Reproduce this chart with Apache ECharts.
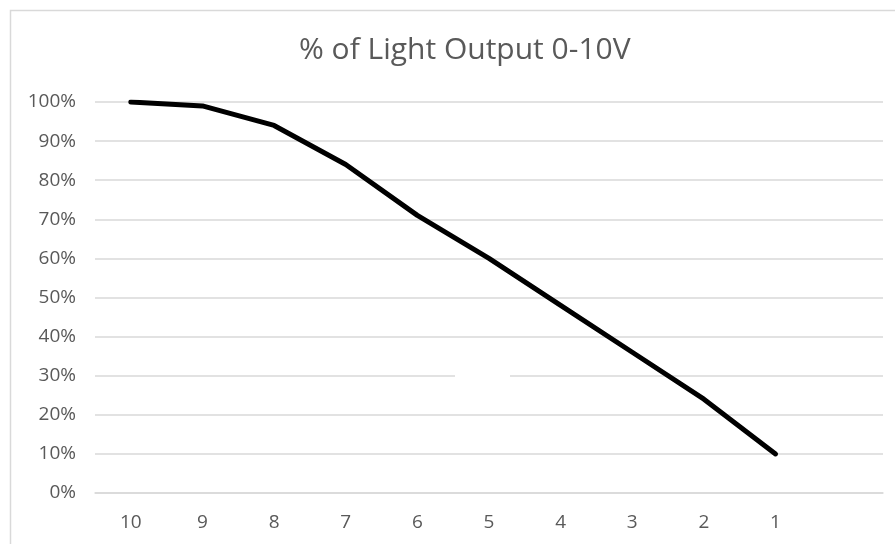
<!DOCTYPE html>
<html>
<head>
<meta charset="utf-8">
<script src="https://cdn.jsdelivr.net/npm/echarts@6/dist/echarts.min.js"></script>
<style>html,body{margin:0;padding:0;background:#fff;}#c{width:895px;height:544px;}</style>
</head>
<body>
<div id="c"></div>
<script>
const titleText = '% of Light Output 0-10V';
const categories = ['10','9','8','7','6','5','4','3','2','1',''];
const lightOutput = [100, 99, 94, 84, 71, 60, 48, 36, 24, 10];
const yTicks = [0, 10, 20, 30, 40, 50, 60, 70, 80, 90, 100];

const chart = echarts.init(document.getElementById('c'), null, {renderer: 'canvas'});
const font = '"Open Sans", sans-serif';
chart.setOption({
  animation: false,
  backgroundColor: '#fff',
  title: {
    text: titleText,
    left: 294,
    top: 30,
    textStyle: {fontFamily: font, fontSize: 30, fontWeight: 'normal', color: '#595959'}
  },
  grid: {left: 95, right: 12, top: 102, bottom: 51, containLabel: false},
  xAxis: {
    type: 'category',
    data: categories,
    boundaryGap: true,
    axisLine: {show: true, lineStyle: {color: '#d9d9d9', width: 1.5}},
    axisTick: {show: false},
    axisLabel: {fontFamily: font, fontSize: 19, color: '#595959', margin: 20}
  },
  yAxis: {
    type: 'value',
    min: yTicks[0],
    max: yTicks[yTicks.length - 1],
    interval: 10,
    axisLine: {show: false},
    axisTick: {show: false},
    splitLine: {lineStyle: {color: '#d9d9d9', width: 1.5}},
    axisLabel: {fontFamily: font, fontSize: 19, color: '#595959', margin: 19, formatter: '{value}%'}
  },
  graphic: [
    {type: 'rect', left: 8, top: 8, shape: {width: 900, height: 600}, style: {fill: 'none', stroke: '#d9d9d9', lineWidth: 1.5}, z: 0},
    {type: 'rect', left: 455, top: 373, shape: {width: 55, height: 6}, style: {fill: '#fff'}, z: 1}
  ],
  series: [{
    type: 'line',
    data: lightOutput,
    showSymbol: false,
    symbol: 'none',
    lineStyle: {color: '#000', width: 5, cap: 'round', join: 'round'},
    z: 5
  }]
});
</script>
</body>
</html>
